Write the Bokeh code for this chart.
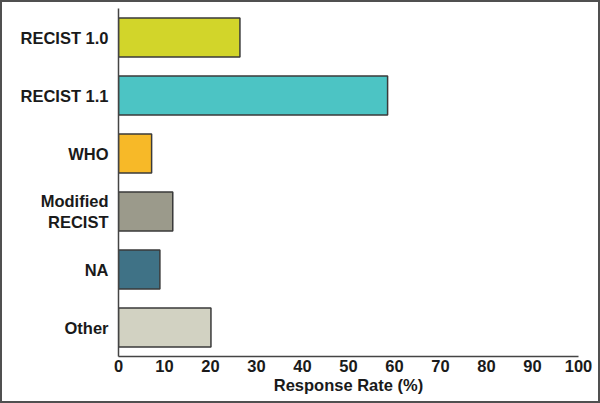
from bokeh.plotting import figure
from bokeh.models import ColumnDataSource, FactorRange, Range1d, FixedTicker
from bokeh.embed import file_html
from bokeh.resources import INLINE

categories = ["RECIST 1.0", "RECIST 1.1", "WHO", "Modified\nRECIST", "NA", "Other"]
response_rate = [26.4, 58.5, 7.2, 11.8, 9.0, 20.1]
colors = ["#d2d52a", "#4cc4c4", "#f7b928", "#9b9a8b", "#3f7286", "#d2d2c2"]
x_ticks = [0, 10, 20, 30, 40, 50, 60, 70, 80, 90, 100]

source = ColumnDataSource(dict(cat=categories, val=response_rate, color=colors))

p = figure(
    width=600, height=403,
    y_range=FactorRange(factors=list(reversed(categories)), range_padding=0),
    x_range=Range1d(0, 100),
    output_backend="svg", toolbar_location=None,
    min_border_left=116, min_border_right=24, min_border_top=6, min_border_bottom=49,
)
p.styles = {"border": "2px solid #505050", "box-sizing": "border-box"}

p.hbar(y="cat", right="val", left=0, height=0.675, source=source,
       fill_color="color", line_color="#3a3a3a", line_width=1.5)

p.xgrid.visible = False
p.ygrid.visible = False
p.outline_line_color = None

font = "Liberation Sans"
for ax in (p.xaxis[0], p.yaxis[0]):
    ax.axis_line_color = "#444444"
    ax.axis_line_width = 1.5
    ax.major_tick_line_color = None
    ax.minor_tick_line_color = None
    ax.major_label_text_font = font
    ax.major_label_text_font_style = "bold"
    ax.major_label_text_color = "#1a1a1a"

p.xaxis.ticker = FixedTicker(ticks=x_ticks)
p.xaxis.major_label_text_font_size = "16.5px"
p.xaxis.major_label_standoff = -3
p.xaxis.axis_label = "Response Rate (%)"
p.xaxis.axis_label_text_font = font
p.xaxis.axis_label_text_font_style = "bold"
p.xaxis.axis_label_text_font_size = "16.5px"
p.xaxis.axis_label_text_color = "#1a1a1a"
p.xaxis.axis_label_standoff = 1

p.yaxis.major_label_text_font_size = "16.5px"
p.yaxis.major_label_standoff = 4

open("out.html", "w").write(file_html(p, INLINE))
